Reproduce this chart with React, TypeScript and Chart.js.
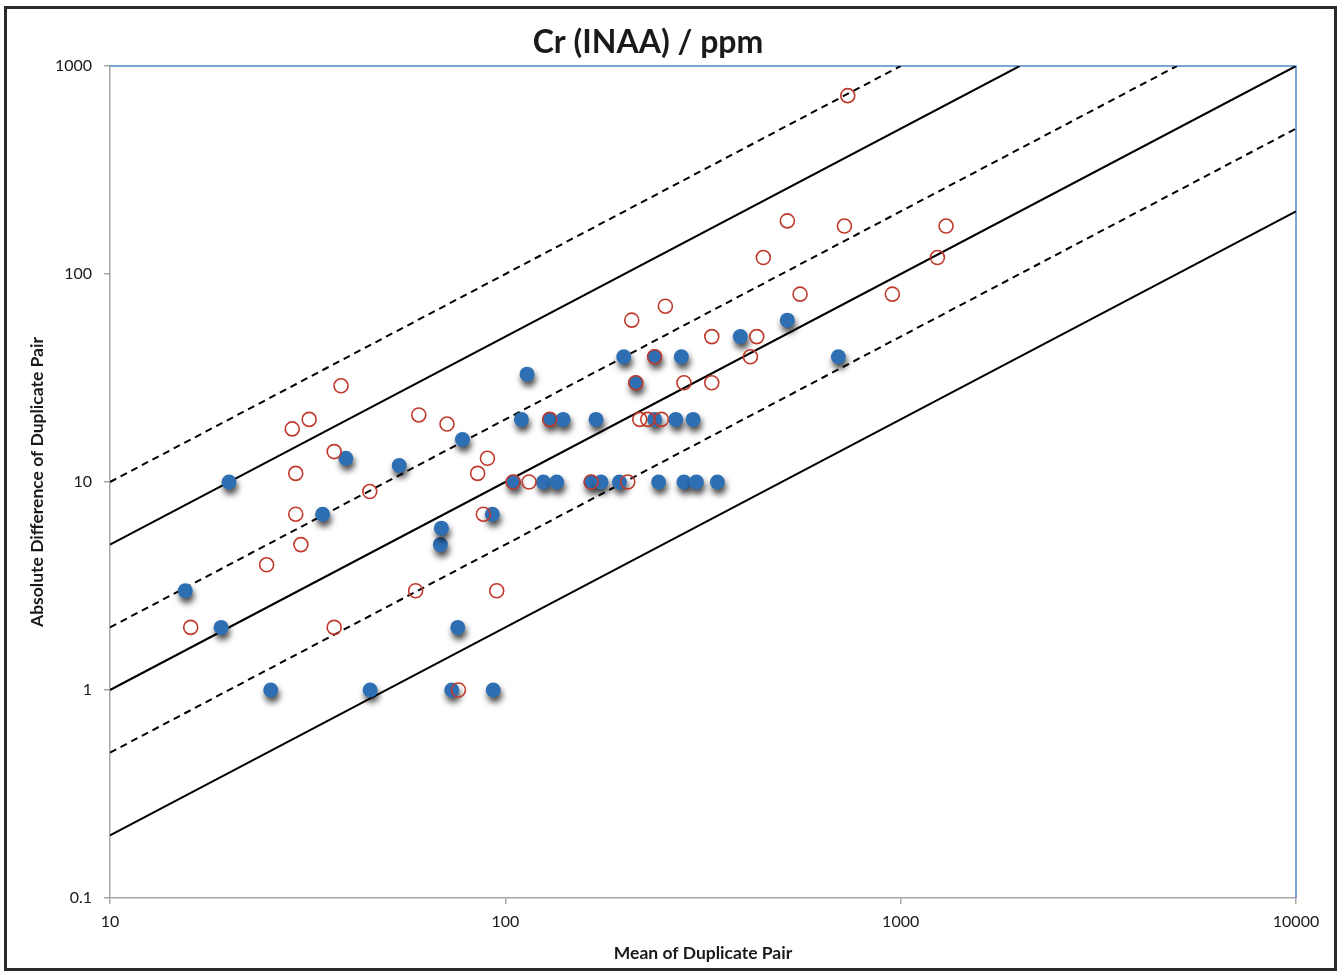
import { useEffect, useRef } from "react";
import { Chart, registerables } from "chart.js";

Chart.register(...registerables);

// ---- Data ----
const xTickValues = [10, 100, 1000, 10000];
const yTickValues = [0.1, 1, 10, 100, 1000];

// Filled blue duplicates
const blueMean = [15.5, 19.1, 20, 25.5, 34.5, 39.5, 45.5, 53.9, 68.5, 68.9, 73.2, 75.8, 77.9, 92.7, 93.2, 104.8, 109.8, 113.5, 124.8, 129.5, 134.9, 140, 164.8, 169.6, 174.6, 194.3, 199.3, 213.8, 238.6, 238.6, 244.2, 269.8, 278.8, 283, 298.5, 304.3, 343.9, 393, 516.8, 695.7];
const blueDiff = [3, 2, 10, 1, 7, 13, 1, 12, 5, 6, 1, 2, 16, 7, 1, 10, 20, 33, 10, 20, 10, 20, 10, 20, 10, 10, 40, 30, 40, 20, 10, 20, 40, 10, 20, 10, 10, 50, 60, 40];

// Open red duplicates
const redMean = [16, 24.9, 28.9, 29.5, 29.5, 30.4, 31.9, 36.9, 36.9, 38.4, 45.4, 59.3, 60.4, 71.2, 76.1, 85.1, 88, 90.1, 95.1, 104.6, 114.8, 129.5, 164.8, 204, 208.8, 213.8, 218.8, 229.2, 238.6, 248.1, 254, 283, 332.8, 332.8, 416.8, 432.5, 449.4, 516.8, 556.6, 720.6, 734.8, 952.6, 1238.7, 1302.6];
const redDiff = [2, 4, 18, 11, 7, 5, 20, 14, 2, 29, 9, 3, 21, 19, 1, 11, 7, 13, 3, 10, 10, 20, 10, 10, 60, 30, 20, 20, 40, 20, 70, 30, 50, 30, 40, 50, 120, 180, 80, 170, 720, 80, 120, 170];

// Precision reference lines (start / end of each line)
const refLineMeans = [
  [10, 1000],
  [10, 2000],
  [10, 5000],
  [10, 10000],
  [10, 10000],
  [10, 10000],
];
const refLineDiffs = [
  [10, 1000],
  [5, 1000],
  [2, 1000],
  [1, 1000],
  [0.5, 500],
  [0.2, 200],
];

const FONT = "Lato, 'Open Sans', sans-serif";
const DASHED_LINES = [0, 2, 4];

const decorPlugin = {
  id: "decor",
  beforeDatasetDraw(chart: any, args: any) {
    const ds = chart.data.datasets[args.index];
    if (ds.label === "blue") {
      const c = chart.ctx;
      c.save();
      c.shadowColor = "rgba(0,0,0,0.72)";
      c.shadowBlur = 6;
      c.shadowOffsetX = 1.5;
      c.shadowOffsetY = 5;
    }
  },
  afterDatasetDraw(chart: any, args: any) {
    const ds = chart.data.datasets[args.index];
    if (ds.label === "blue") chart.ctx.restore();
  },
  beforeDatasetsDraw(chart: any) {
    const { ctx, chartArea } = chart;
    const { left, top, right, bottom } = chartArea;
    ctx.save();
    ctx.strokeStyle = "#4F88C6";
    ctx.lineWidth = 1.5;
    ctx.beginPath();
    ctx.moveTo(left, top);
    ctx.lineTo(right, top);
    ctx.lineTo(right, bottom);
    ctx.stroke();
    ctx.restore();
  },
  afterDraw(chart: any) {
    const ctx = chart.ctx;
    ctx.save();
    ctx.strokeStyle = "#2b2b2b";
    ctx.lineWidth = 3;
    ctx.strokeRect(5.5, 7.5, 1330, 962);
    ctx.restore();
  },
};

export default function App() {
  const ref = useRef<HTMLCanvasElement>(null);
  useEffect(() => {
    document.body.style.margin = "0";
    const canvas = ref.current!;
    const refDatasets = refLineMeans.map((xs, i) => ({
      label: "ref" + i,
      data: xs.map((x, j) => ({ x, y: refLineDiffs[i][j] })),
      showLine: true,
      borderColor: "#000000",
      borderWidth: 2,
      borderDash: DASHED_LINES.includes(i) ? [7, 5] : [],
      pointRadius: 0,
      fill: false,
      order: 3,
    }));
    const chart = new Chart(canvas, {
      type: "scatter",
      data: {
        datasets: [
          ...refDatasets,
          {
            label: "blue",
            data: blueMean.map((x, i) => ({ x, y: blueDiff[i] })),
            pointRadius: 7.5,
            pointBackgroundColor: "#2E6FB4",
            pointBorderWidth: 0,
            backgroundColor: "#2E6FB4",
            borderWidth: 0,
            order: 2,
          },
          {
            label: "red",
            data: redMean.map((x, i) => ({ x, y: redDiff[i] })),
            pointRadius: 7,
            pointBackgroundColor: "rgba(0,0,0,0)",
            backgroundColor: "rgba(0,0,0,0)",
            pointBorderColor: "#C0392B",
            borderColor: "#C0392B",
            pointBorderWidth: 1.6,
            borderWidth: 1.6,
            order: 1,
          },
        ] as any,
      },
      options: {
        responsive: false,
        animation: false,
        devicePixelRatio: 1,
        layout: { padding: { left: 0, right: 43, top: 0, bottom: 0 } },
        plugins: {
          legend: { display: false },
          tooltip: { enabled: false },
          title: {
            display: true,
            text: "Cr (INAA) / ppm",
            color: "#1a1a1a",
            font: { family: FONT, size: 32, weight: "bold" },
            padding: { top: 23.8, bottom: 3.8 },
          },
        },
        scales: {
          x: {
            type: "logarithmic",
            min: 10,
            max: 10000,
            afterBuildTicks: (s: any) => {
              s.ticks = xTickValues.map((v) => ({ value: v, major: true }));
            },
            afterFit: (s: any) => {
              s.height = 74;
            },
            ticks: {
              callback: (v: any) => String(v),
              color: "#1a1a1a",
              font: { family: FONT, size: 16 },
              padding: 8,
              autoSkip: false,
              maxRotation: 0,
            },
            grid: {
              display: true,
              drawOnChartArea: false,
              drawTicks: true,
              tickLength: 6,
              color: "#A6A6A6",
              lineWidth: 1.5,
            },
            border: { display: true, color: "#A6A6A6", width: 1.5 },
            title: {
              display: true,
              text: "Mean of Duplicate Pair",
              color: "#1a1a1a",
              font: { family: FONT, size: 17.5, weight: "bold" },
              padding: { top: 0, bottom: 8.5 },
            },
          },
          y: {
            type: "logarithmic",
            min: 0.1,
            max: 1000,
            afterBuildTicks: (s: any) => {
              s.ticks = yTickValues.map((v) => ({ value: v, major: true }));
            },
            afterFit: (s: any) => {
              s.width = 110;
            },
            ticks: {
              callback: (v: any) => String(v),
              color: "#1a1a1a",
              font: { family: FONT, size: 16 },
              padding: 12,
              autoSkip: false,
            },
            grid: {
              display: true,
              drawOnChartArea: false,
              drawTicks: true,
              tickLength: 6,
              color: "#A6A6A6",
              lineWidth: 1.5,
            },
            border: { display: true, color: "#A6A6A6", width: 1.5 },
            title: {
              display: true,
              text: "Absolute Difference of Duplicate Pair",
              color: "#1a1a1a",
              font: { family: FONT, size: 17.5, weight: "bold" },
              padding: { top: 26.5, bottom: 0 },
            },
          },
        },
      } as any,
      plugins: [decorPlugin],
    });
    return () => chart.destroy();
  }, []);
  return (
    <div style={{ width: 1339, height: 972, position: "relative", background: "#fff" }}>
      <canvas ref={ref} width={1339} height={972} style={{ display: "block" }} />
    </div>
  );
}
